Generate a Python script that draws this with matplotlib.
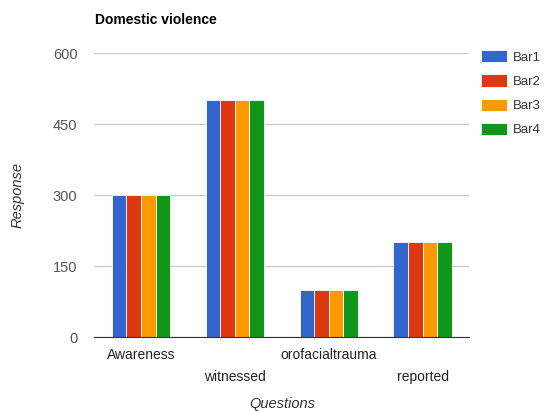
import numpy as np
import matplotlib.pyplot as plt

plt.rcParams['font.family'] = ['Liberation Sans', 'DejaVu Sans']

categories = ['Awareness', 'witnessed', 'orofacialtrauma', 'reported']
series_names = ['Bar1', 'Bar2', 'Bar3', 'Bar4']
bar1 = [300, 500, 100, 200]
bar2 = [300, 500, 100, 200]
bar3 = [300, 500, 100, 200]
bar4 = [300, 500, 100, 200]
yticks = [0, 150, 300, 450, 600]

colors = ['#3366CC', '#DC3912', '#FF9900', '#109618']

fig = plt.figure(figsize=(5.44, 4.11), dpi=100)
ax = fig.add_axes([0.173, 0.180, 0.690, 0.691])

x = np.arange(len(categories))
w = 0.155
for i, (vals, name) in enumerate(zip([bar1, bar2, bar3, bar4], series_names)):
    ax.bar(x + (i - 1.5) * w, vals, width=w, color=colors[i], label=name,
           edgecolor='white', linewidth=0.6, zorder=3)

ax.set_xlim(-0.5, len(categories) - 0.5)
ax.set_ylim(0, 600)
ax.set_yticks(yticks)
ax.tick_params(axis='y', length=0, labelsize=10.5, labelcolor='#555555', pad=12)
ax.grid(axis='y', color='#cccccc', linewidth=1, zorder=0)
for s in ['top', 'right', 'left']:
    ax.spines[s].set_visible(False)
ax.spines['bottom'].set_color('#333333')
ax.spines['bottom'].set_zorder(4)

# staggered category labels
ax.set_xticks(x)
ax.set_xticklabels([])
ax.tick_params(axis='x', length=0)
for i, c in enumerate(categories):
    off = 18 if i % 2 == 0 else 40
    ax.annotate(c, xy=(x[i], 0), xycoords=('data', 'axes fraction'),
                xytext=(0, -off), textcoords='offset pixels',
                ha='center', va='center', fontsize=10, color='#222222')

fig.text(0.175, 0.952, 'Domestic violence', fontsize=10, fontweight='bold',
         ha='left', va='center')
fig.text(0.033, 0.525, 'Response', rotation=90, style='italic', fontsize=10.5,
         color='#333333', ha='center', va='center')
fig.text(0.518, 0.017, 'Questions', style='italic', fontsize=10.5,
         color='#333333', ha='center', va='center')

ax.legend(loc='upper left', bbox_to_anchor=(1.032, 1.01), frameon=False,
          fontsize=9.5, handlelength=1.95, handleheight=1.05, borderpad=0,
          labelspacing=0.8, handletextpad=0.45, borderaxespad=0,
          labelcolor='#333333')

fig.savefig('out.png', dpi=100)
